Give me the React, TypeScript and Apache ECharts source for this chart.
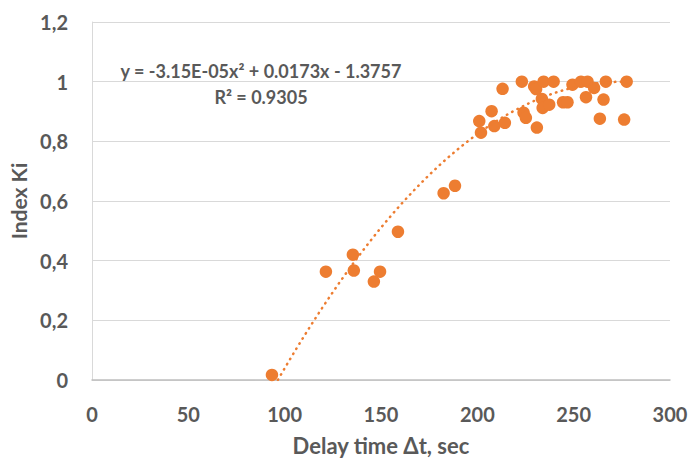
import React, { useEffect, useRef } from "react";
import * as echarts from "echarts";

const delayTimes: number[] = [
  93.4, 121.4, 135.4, 135.9, 146.3, 149.5, 158.8, 182.5, 188.4, 201.0,
  201.9, 207.4, 208.8, 213.1, 214.3, 223.1, 224.0, 225.2, 229.5, 230.5,
  230.9, 233.5, 233.9, 234.4, 237.3, 239.6, 244.5, 246.8, 249.4, 253.8,
  256.4, 257.2, 260.6, 263.6, 265.5, 266.7, 276.2, 277.5,
];
const indexKi: number[] = [
  0.017, 0.363, 0.42, 0.367, 0.33, 0.363, 0.497, 0.626, 0.651, 0.868,
  0.829, 0.901, 0.851, 0.976, 0.862, 1.0, 0.896, 0.879, 0.984, 0.975,
  0.846, 0.942, 0.912, 1.0, 0.923, 1.0, 0.931, 0.931, 0.99, 1.0,
  0.948, 1.0, 0.979, 0.876, 0.94, 1.0, 0.873, 1.0,
];
// Trendline coefficients as printed on the chart: y = a x^2 + b x + c
const trendCoef: number[] = [-3.15e-5, 0.0173, -1.3757];
const trendRange: number[] = [96.5, 277.5];
const equationText = "y = -3.15E-05x² + 0.0173x - 1.3757";
const r2Text = "R² = 0.9305";

export default function App() {
  const ref = useRef<HTMLDivElement>(null);
  useEffect(() => {
    if (!ref.current) return;
    const chart = echarts.init(ref.current, null, { renderer: "svg" });
    const scatter = delayTimes.map((x, i) => [x, indexKi[i]]);
    const trend: number[][] = [];
    for (let x = trendRange[0]; x <= trendRange[1] + 1e-9; x += 0.5) {
      trend.push([x, trendCoef[0] * x * x + trendCoef[1] * x + trendCoef[2]]);
    }
    const labelColor = "#595959";
    const font = "Lato, 'Open Sans', sans-serif";
    chart.setOption({
      animation: false,
      backgroundColor: "#ffffff",
      grid: { left: 92, right: 22, top: 22, bottom: 79, containLabel: false },
      xAxis: {
        type: "value",
        min: 0,
        max: 300,
        interval: 50,
        name: "Delay time Δt, sec",
        nameLocation: "middle",
        nameGap: 54,
        nameTextStyle: { color: labelColor, fontSize: 22, fontWeight: "bold", fontFamily: font },
        axisLine: { show: true, lineStyle: { color: "#bfbfbf", width: 1.5 } },
        axisTick: { show: false },
        splitLine: { show: false },
        axisLabel: { color: labelColor, fontSize: 20, fontWeight: "bold", fontFamily: font, margin: 24 },
      },
      yAxis: {
        type: "value",
        min: 0,
        max: 1.2,
        interval: 0.2,
        name: "Index Ki",
        nameLocation: "middle",
        nameGap: 63,
        nameRotate: 90,
        nameTextStyle: { color: labelColor, fontSize: 21, fontWeight: "bold", fontFamily: font },
        axisLine: { show: true, lineStyle: { color: "#d9d9d9", width: 1 } },
        axisTick: { show: false },
        splitLine: { show: true, lineStyle: { color: "#d9d9d9", width: 1 } },
        axisLabel: {
          color: labelColor,
          fontSize: 20,
          fontWeight: "bold",
          fontFamily: font,
          margin: 24,
          formatter: (v: number) => String(Math.round(v * 10) / 10).replace(".", ","),
        },
      },
      series: [
        {
          type: "line",
          data: trend,
          showSymbol: false,
          symbol: "none",
          smooth: false,
          lineStyle: { color: "#ED7D31", width: 2.5, type: [0.5, 5.5], cap: "round" },
          z: 3,
        },
        {
          type: "scatter",
          data: scatter,
          symbol: "circle",
          symbolSize: 12.5,
          itemStyle: { color: "#ED7D31", opacity: 1 },
          z: 2,
        },
      ],
      graphic: [
        {
          type: "text",
          x: 261,
          y: 71,
          style: {
            text: equationText,
            fill: labelColor,
            font: `bold 18px ${font}`,
            align: "center",
            verticalAlign: "middle",
          },
        },
        {
          type: "text",
          x: 261,
          y: 97,
          style: {
            text: r2Text,
            fill: labelColor,
            font: `bold 18px ${font}`,
            align: "center",
            verticalAlign: "middle",
          },
        },
      ],
    });
    return () => chart.dispose();
  }, []);
  return (
    <div
      ref={ref}
      style={{ position: "fixed", left: 0, top: 0, width: 692, height: 461, background: "#fff" }}
    />
  );
}
